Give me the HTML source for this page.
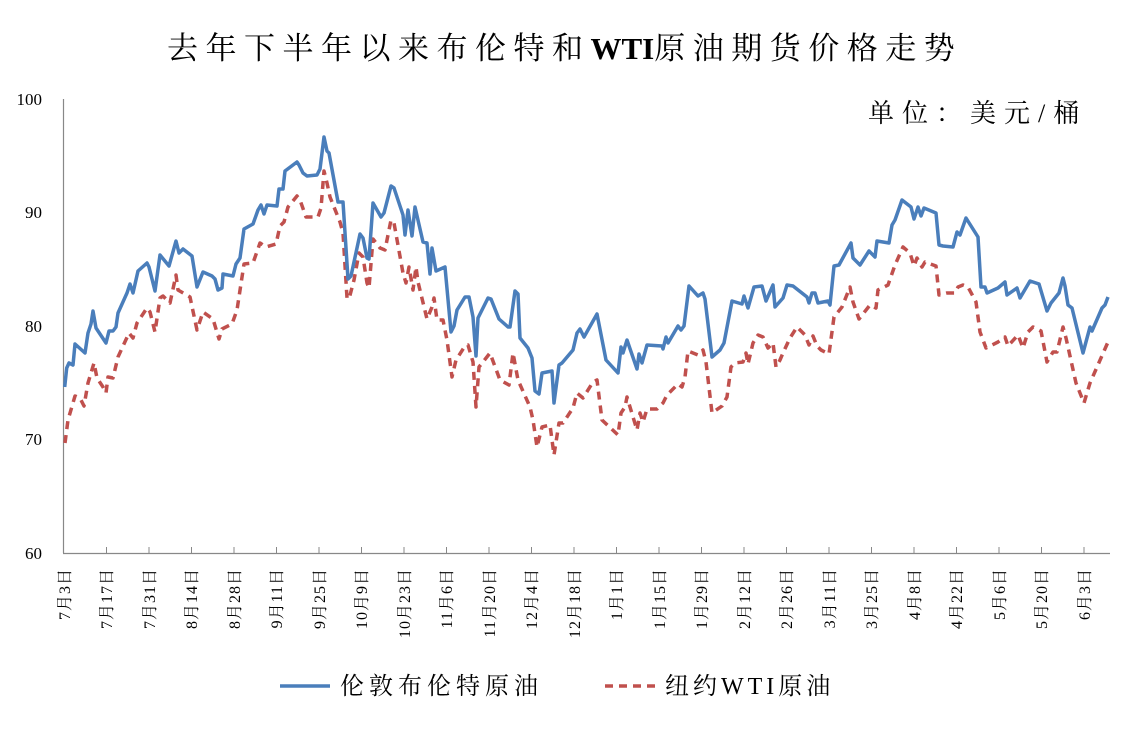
<!DOCTYPE html>
<html><head><meta charset="utf-8"><style>
html,body{margin:0;padding:0;background:#fff;}
svg{display:block;font-family:"Liberation Serif","Noto Serif CJK SC",serif;}
</style></head><body>
<svg width="1134" height="733" viewBox="0 0 1134 733" xmlns="http://www.w3.org/2000/svg">
<rect width="1134" height="733" fill="#fff"/>
<text x="167" y="59" font-size="31" letter-spacing="7.5" fill="#000" font-family="'Liberation Serif','Noto Serif CJK SC',serif">去年下半年以来布伦特和<tspan font-weight="bold" letter-spacing="0">WTI</tspan>原油期货价格走势</text>
<text x="868" y="122" font-size="26" letter-spacing="8" fill="#000" font-family="'Liberation Serif','Noto Serif CJK SC',serif">单位：美元/桶</text>
<g font-size="17" fill="#000" text-anchor="end">
<text x="42" y="105">100</text><text x="42" y="218">90</text><text x="42" y="332">80</text><text x="42" y="445">70</text><text x="42" y="559">60</text>
</g>
<line x1="63.5" y1="99" x2="63.5" y2="553" stroke="#888" stroke-width="1.2"/>
<line x1="63" y1="553.5" x2="1110" y2="553.5" stroke="#888" stroke-width="1.2"/>
<g stroke="#888" stroke-width="1">
<line x1="106.5" y1="547" x2="106.5" y2="553"/><line x1="149" y1="547" x2="149" y2="553"/><line x1="191.5" y1="547" x2="191.5" y2="553"/><line x1="234" y1="547" x2="234" y2="553"/><line x1="276.5" y1="547" x2="276.5" y2="553"/><line x1="319" y1="547" x2="319" y2="553"/><line x1="361.5" y1="547" x2="361.5" y2="553"/><line x1="404" y1="547" x2="404" y2="553"/><line x1="446.5" y1="547" x2="446.5" y2="553"/><line x1="489" y1="547" x2="489" y2="553"/><line x1="531.5" y1="547" x2="531.5" y2="553"/><line x1="574" y1="547" x2="574" y2="553"/><line x1="616.5" y1="547" x2="616.5" y2="553"/><line x1="659" y1="547" x2="659" y2="553"/><line x1="701.5" y1="547" x2="701.5" y2="553"/><line x1="744" y1="547" x2="744" y2="553"/><line x1="786.5" y1="547" x2="786.5" y2="553"/><line x1="829" y1="547" x2="829" y2="553"/><line x1="871.5" y1="547" x2="871.5" y2="553"/><line x1="914" y1="547" x2="914" y2="553"/><line x1="956.5" y1="547" x2="956.5" y2="553"/><line x1="999" y1="547" x2="999" y2="553"/><line x1="1041.5" y1="547" x2="1041.5" y2="553"/><line x1="1084" y1="547" x2="1084" y2="553"/>
</g>
<g font-size="16" letter-spacing="1" fill="#000" text-anchor="end">
<text transform="translate(70,568) rotate(-90)">7月3日</text>
<text transform="translate(112,568) rotate(-90)">7月17日</text>
<text transform="translate(155,568) rotate(-90)">7月31日</text>
<text transform="translate(197,568) rotate(-90)">8月14日</text>
<text transform="translate(240,568) rotate(-90)">8月28日</text>
<text transform="translate(282,568) rotate(-90)">9月11日</text>
<text transform="translate(325,568) rotate(-90)">9月25日</text>
<text transform="translate(367,568) rotate(-90)">10月9日</text>
<text transform="translate(410,568) rotate(-90)">10月23日</text>
<text transform="translate(452,568) rotate(-90)">11月6日</text>
<text transform="translate(495,568) rotate(-90)">11月20日</text>
<text transform="translate(537,568) rotate(-90)">12月4日</text>
<text transform="translate(580,568) rotate(-90)">12月18日</text>
<text transform="translate(622,568) rotate(-90)">1月1日</text>
<text transform="translate(665,568) rotate(-90)">1月15日</text>
<text transform="translate(707,568) rotate(-90)">1月29日</text>
<text transform="translate(750,568) rotate(-90)">2月12日</text>
<text transform="translate(792,568) rotate(-90)">2月26日</text>
<text transform="translate(835,568) rotate(-90)">3月11日</text>
<text transform="translate(877,568) rotate(-90)">3月25日</text>
<text transform="translate(920,568) rotate(-90)">4月8日</text>
<text transform="translate(962,568) rotate(-90)">4月22日</text>
<text transform="translate(1005,568) rotate(-90)">5月6日</text>
<text transform="translate(1047,568) rotate(-90)">5月20日</text>
<text transform="translate(1090,568) rotate(-90)">6月3日</text>
</g>
<polyline fill="none" stroke="#C0504D" stroke-width="3.5" stroke-dasharray="8,6" stroke-linejoin="round" points="65,443 68,420 75,396 80,398 84,406 88,383 94,363 97,378 103,387 106,393 108,377 113,378 118,357 129,333 133,338 137,323 147,308 150,312 155,332 160,298 163,296 170,303 176,275 178,290 190,297 197,330 203,312 213,319 219,339 222,329 232,324 237,310 244,264 253,263 260,243 266,247 276,244 280,226 284,222 288,207 297,196 300,200 306,217 318,217 321,208 324,171 327,183 330,197 340,222 343,233 347,298 349,299 354,280 359,253 363,257 367,283 369,288 373,239 380,248 385,250 391,220 394,223 403,273 406,283 409,267 413,290 416,267 418,282 427,319 432,307 434,298 437,320 443,320 447,340 452,377 456,360 465,346 468,345 473,362 476,407 479,367 490,353 500,380 509,385 513,353 518,380 530,407 533,420 537,447 542,427 550,425 554,455 559,423 563,423 573,408 577,393 583,398 593,382 597,380 602,420 618,435 621,413 625,407 627,397 633,417 637,430 640,413 643,422 647,409 657,409 663,403 667,395 678,384 682,387 685,377 688,351 698,355 703,350 706,362 712,413 722,406 727,397 731,367 735,363 743,362 746,353 748,364 753,343 758,335 763,337 768,348 773,343 776,367 780,360 783,353 790,338 797,327 805,335 809,345 813,336 817,346 821,350 829,354 834,317 842,307 850,287 853,302 859,319 870,305 876,308 878,290 888,285 895,265 903,247 910,253 914,266 917,258 922,267 925,262 936,266 939,295 947,293 955,293 958,287 963,285 968,287 976,302 980,332 986,348 998,342 1005,337 1008,346 1018,335 1023,348 1028,332 1033,327 1041,331 1047,362 1053,352 1057,352 1063,327 1066,338 1076,383 1084,403 1090,383 1108,342"/>
<polyline fill="none" stroke="#4A7EBB" stroke-width="3.5" stroke-linejoin="round" points="64.7,387 66.7,368 69,363 73,365 75,344 85,353 88,333 91,324 93,311 96,328 106,343 109,331 113,331 116,327 118,313 127,293 130,284 133,293 138,271 147,263 149,267 155,291 160,255 169,266 176,241 179,253 183,249 192,256 197,287 203,272 212,276 215,279 218,290 222,288 223,274 233,276 236,264 240,258 244,229 253,224 258,210 261,205 264,214 267,205 277,206 279,189 283,189 285,171 297,162 299,165 303,173 307,176 317,175 320,169 324,137 327,151 329,153 338,202 343,202 348,279 351,276 360,234 363,238 367,258 369,259 373,203 381,217 384,213 391,186 394,188 403,215 405,235 408,210 412,236 415,207 423,242 427,243 430,274 432,248 436,271 445,267 451,332 454,326 457,310 465,297 469,297 473,317 476,356 478,318 488,298 491,299 499,319 508,327 510,327 515,291 518,294 520,338 528,348 532,358 535,391 539,394 542,373 552,371 554,403 559,365 562,363 573,350 577,333 580,329 584,337 597,314 606,360 618,373 621,347 623,353 627,340 637,369 639,354 642,363 647,345 662,346 663,349 666,337 668,343 678,326 681,330 684,326 689,286 698,296 703,293 705,299 712,357 720,350 724,343 732,301 742,304 744,296 748,308 754,287 762,286 766,301 773,285 775,307 783,298 787,285 793,286 807,297 809,303 812,293 815,293 818,303 828,301 830,305 834,266 839,265 851,243 853,258 860,265 869,251 875,257 877,241 889,243 892,225 895,220 902,200 911,207 914,219 918,207 921,216 924,208 936,213 939,245 943,246 953,247 957,232 960,235 966,218 978,237 981,287 985,287 987,293 998,288 1005,282 1007,295 1017,288 1020,298 1030,281 1039,284 1047,311 1051,303 1059,293 1063,278 1065,286 1068,305 1072,308 1083,353 1090,327 1092,331 1102,308 1105,305 1108,297"/>
<line x1="280" y1="686" x2="330" y2="686" stroke="#4A7EBB" stroke-width="3.5"/>
<text x="340" y="694" font-size="24" letter-spacing="5" fill="#000">伦敦布伦特原油</text>
<line x1="605" y1="686" x2="657" y2="686" stroke="#C0504D" stroke-width="3.5" stroke-dasharray="8,6"/>
<text x="665" y="694" font-size="24" letter-spacing="4" fill="#000">纽约WTI原油</text>
</svg>
</body></html>
